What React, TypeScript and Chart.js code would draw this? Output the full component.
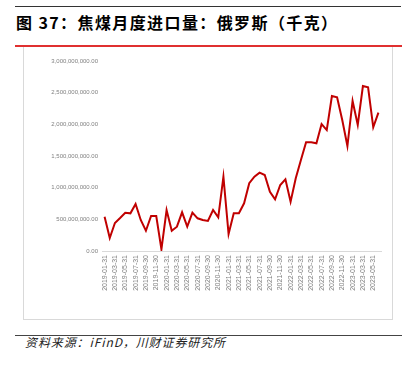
import React, { useEffect, useRef } from "react";
import { Chart, registerables } from "chart.js";

Chart.register(...registerables);

const titleText = "图 37：焦煤月度进口量：俄罗斯（千克）";
const sourceText = "资料来源：iFinD，川财证券研究所";

const categories = [
  "2019-01-31", "2019-02-28", "2019-03-31", "2019-04-30", "2019-05-31", "2019-06-30",
  "2019-07-31", "2019-08-31", "2019-09-30", "2019-10-31", "2019-11-30", "2019-12-31",
  "2020-01-31", "2020-02-29", "2020-03-31", "2020-04-30", "2020-05-31", "2020-06-30",
  "2020-07-31", "2020-08-31", "2020-09-30", "2020-10-31", "2020-11-30", "2020-12-31",
  "2021-01-31", "2021-02-28", "2021-03-31", "2021-04-30", "2021-05-31", "2021-06-30",
  "2021-07-31", "2021-08-31", "2021-09-30", "2021-10-31", "2021-11-30", "2021-12-31",
  "2022-01-31", "2022-02-28", "2022-03-31", "2022-04-30", "2022-05-31", "2022-06-30",
  "2022-07-31", "2022-08-31", "2022-09-30", "2022-10-31", "2022-11-30", "2022-12-31",
  "2023-01-31", "2023-02-28", "2023-03-31", "2023-04-30", "2023-05-31", "2023-06-30",
];

const russiaImports = [
  542e6, 205e6, 442e6, 521e6, 605e6, 595e6, 742e6, 490e6, 320e6, 553e6,
  553e6, 27e6, 647e6, 320e6, 384e6, 611e6, 384e6, 605e6, 516e6, 490e6,
  474e6, 647e6, 532e6, 1173e6, 268e6, 595e6, 595e6, 753e6, 1070e6, 1173e6,
  1237e6, 1200e6, 936e6, 816e6, 1042e6, 1132e6, 779e6, 1148e6, 1437e6, 1716e6,
  1716e6, 1700e6, 2005e6, 1910e6, 2447e6, 2427e6, 2068e6, 1658e6, 2369e6, 1990e6,
  2605e6, 2585e6, 1953e6, 2184e6,
];

const yMin = 0;
const yMax = 3000000000;
const yStep = 500000000;

export default function App() {
  const canvasRef = useRef<HTMLCanvasElement | null>(null);

  useEffect(() => {
    const canvas = canvasRef.current;
    if (!canvas) return;
    const chart = new Chart(canvas, {
      type: "line",
      data: {
        labels: categories,
        datasets: [
          {
            data: russiaImports,
            borderColor: "#c00000",
            borderWidth: 2,
            pointRadius: 0,
            tension: 0,
            fill: false,
          },
        ],
      },
      options: {
        animation: false,
        responsive: false,
        devicePixelRatio: 1,
        layout: { padding: { top: 13, right: 10, bottom: 0, left: 0 } },
        plugins: {
          legend: { display: false },
          tooltip: { enabled: false },
        },
        scales: {
          x: {
            offset: true,
            grid: { display: false, drawTicks: false },
            border: { display: true, color: "#d9d9d9", width: 1 },
            ticks: {
              autoSkip: false,
              maxRotation: 90,
              minRotation: 90,
              padding: 4,
              color: "#808080",
              font: { family: "'Liberation Sans', Arial, sans-serif", size: 7 },
              callback: function (_v: any, i: number) {
                return i % 2 === 0 ? categories[i] : "";
              },
            },
            afterFit: (scale: any) => {
              scale.height = 68;
            },
          },
          y: {
            min: yMin,
            max: yMax,
            grid: { display: false, drawTicks: false },
            border: { display: false },
            ticks: {
              stepSize: yStep,
              padding: 4,
              color: "#808080",
              font: { family: "'Liberation Sans', Arial, sans-serif", size: 6 },
              callback: (v: any) =>
                Number(v).toLocaleString("en-US", {
                  minimumFractionDigits: 2,
                  maximumFractionDigits: 2,
                }),
            },
            afterFit: (scale: any) => {
              scale.width = 78;
            },
          },
        },
      },
    });
    return () => chart.destroy();
  }, []);

  return (
    <div
      style={{
        position: "fixed",
        left: 0,
        top: 0,
        width: 406,
        height: 365,
        background: "#ffffff",
        overflow: "hidden",
      }}
    >
      <div style={{ position: "absolute", left: 15, top: 6, width: 386, height: 1, background: "#333333" }} />
      <div
        style={{
          position: "absolute",
          left: 16,
          top: 11,
          fontFamily: "'Noto Sans CJK SC', sans-serif",
          fontWeight: 700,
          fontSize: 16,
          letterSpacing: 1.4,
          lineHeight: "22px",
          color: "#000000",
          whiteSpace: "nowrap",
        }}
      >
        {titleText}
      </div>
      <div style={{ position: "absolute", left: 15, top: 45, width: 387, height: 1.5, background: "#e03030" }} />
      <div
        style={{
          position: "absolute",
          left: 23,
          top: 47,
          width: 368,
          height: 272,
          borderLeft: "1px solid #d9d9d9",
          borderRight: "1px solid #d9d9d9",
          borderBottom: "1px solid #d9d9d9",
        }}
      />
      <canvas
        ref={canvasRef}
        width={367}
        height={271}
        style={{ position: "absolute", left: 24, top: 48, width: 367, height: 271 }}
      />
      <div style={{ position: "absolute", left: 15, top: 335, width: 387, height: 1, background: "#444444" }} />
      <div
        style={{
          position: "absolute",
          left: 25,
          top: 334,
          fontFamily: "'Noto Sans CJK SC', sans-serif",
          fontStyle: "italic",
          fontSize: 12,
          letterSpacing: 0.9,
          lineHeight: "16px",
          color: "#222222",
          whiteSpace: "nowrap",
        }}
      >
        {sourceText}
      </div>
    </div>
  );
}
